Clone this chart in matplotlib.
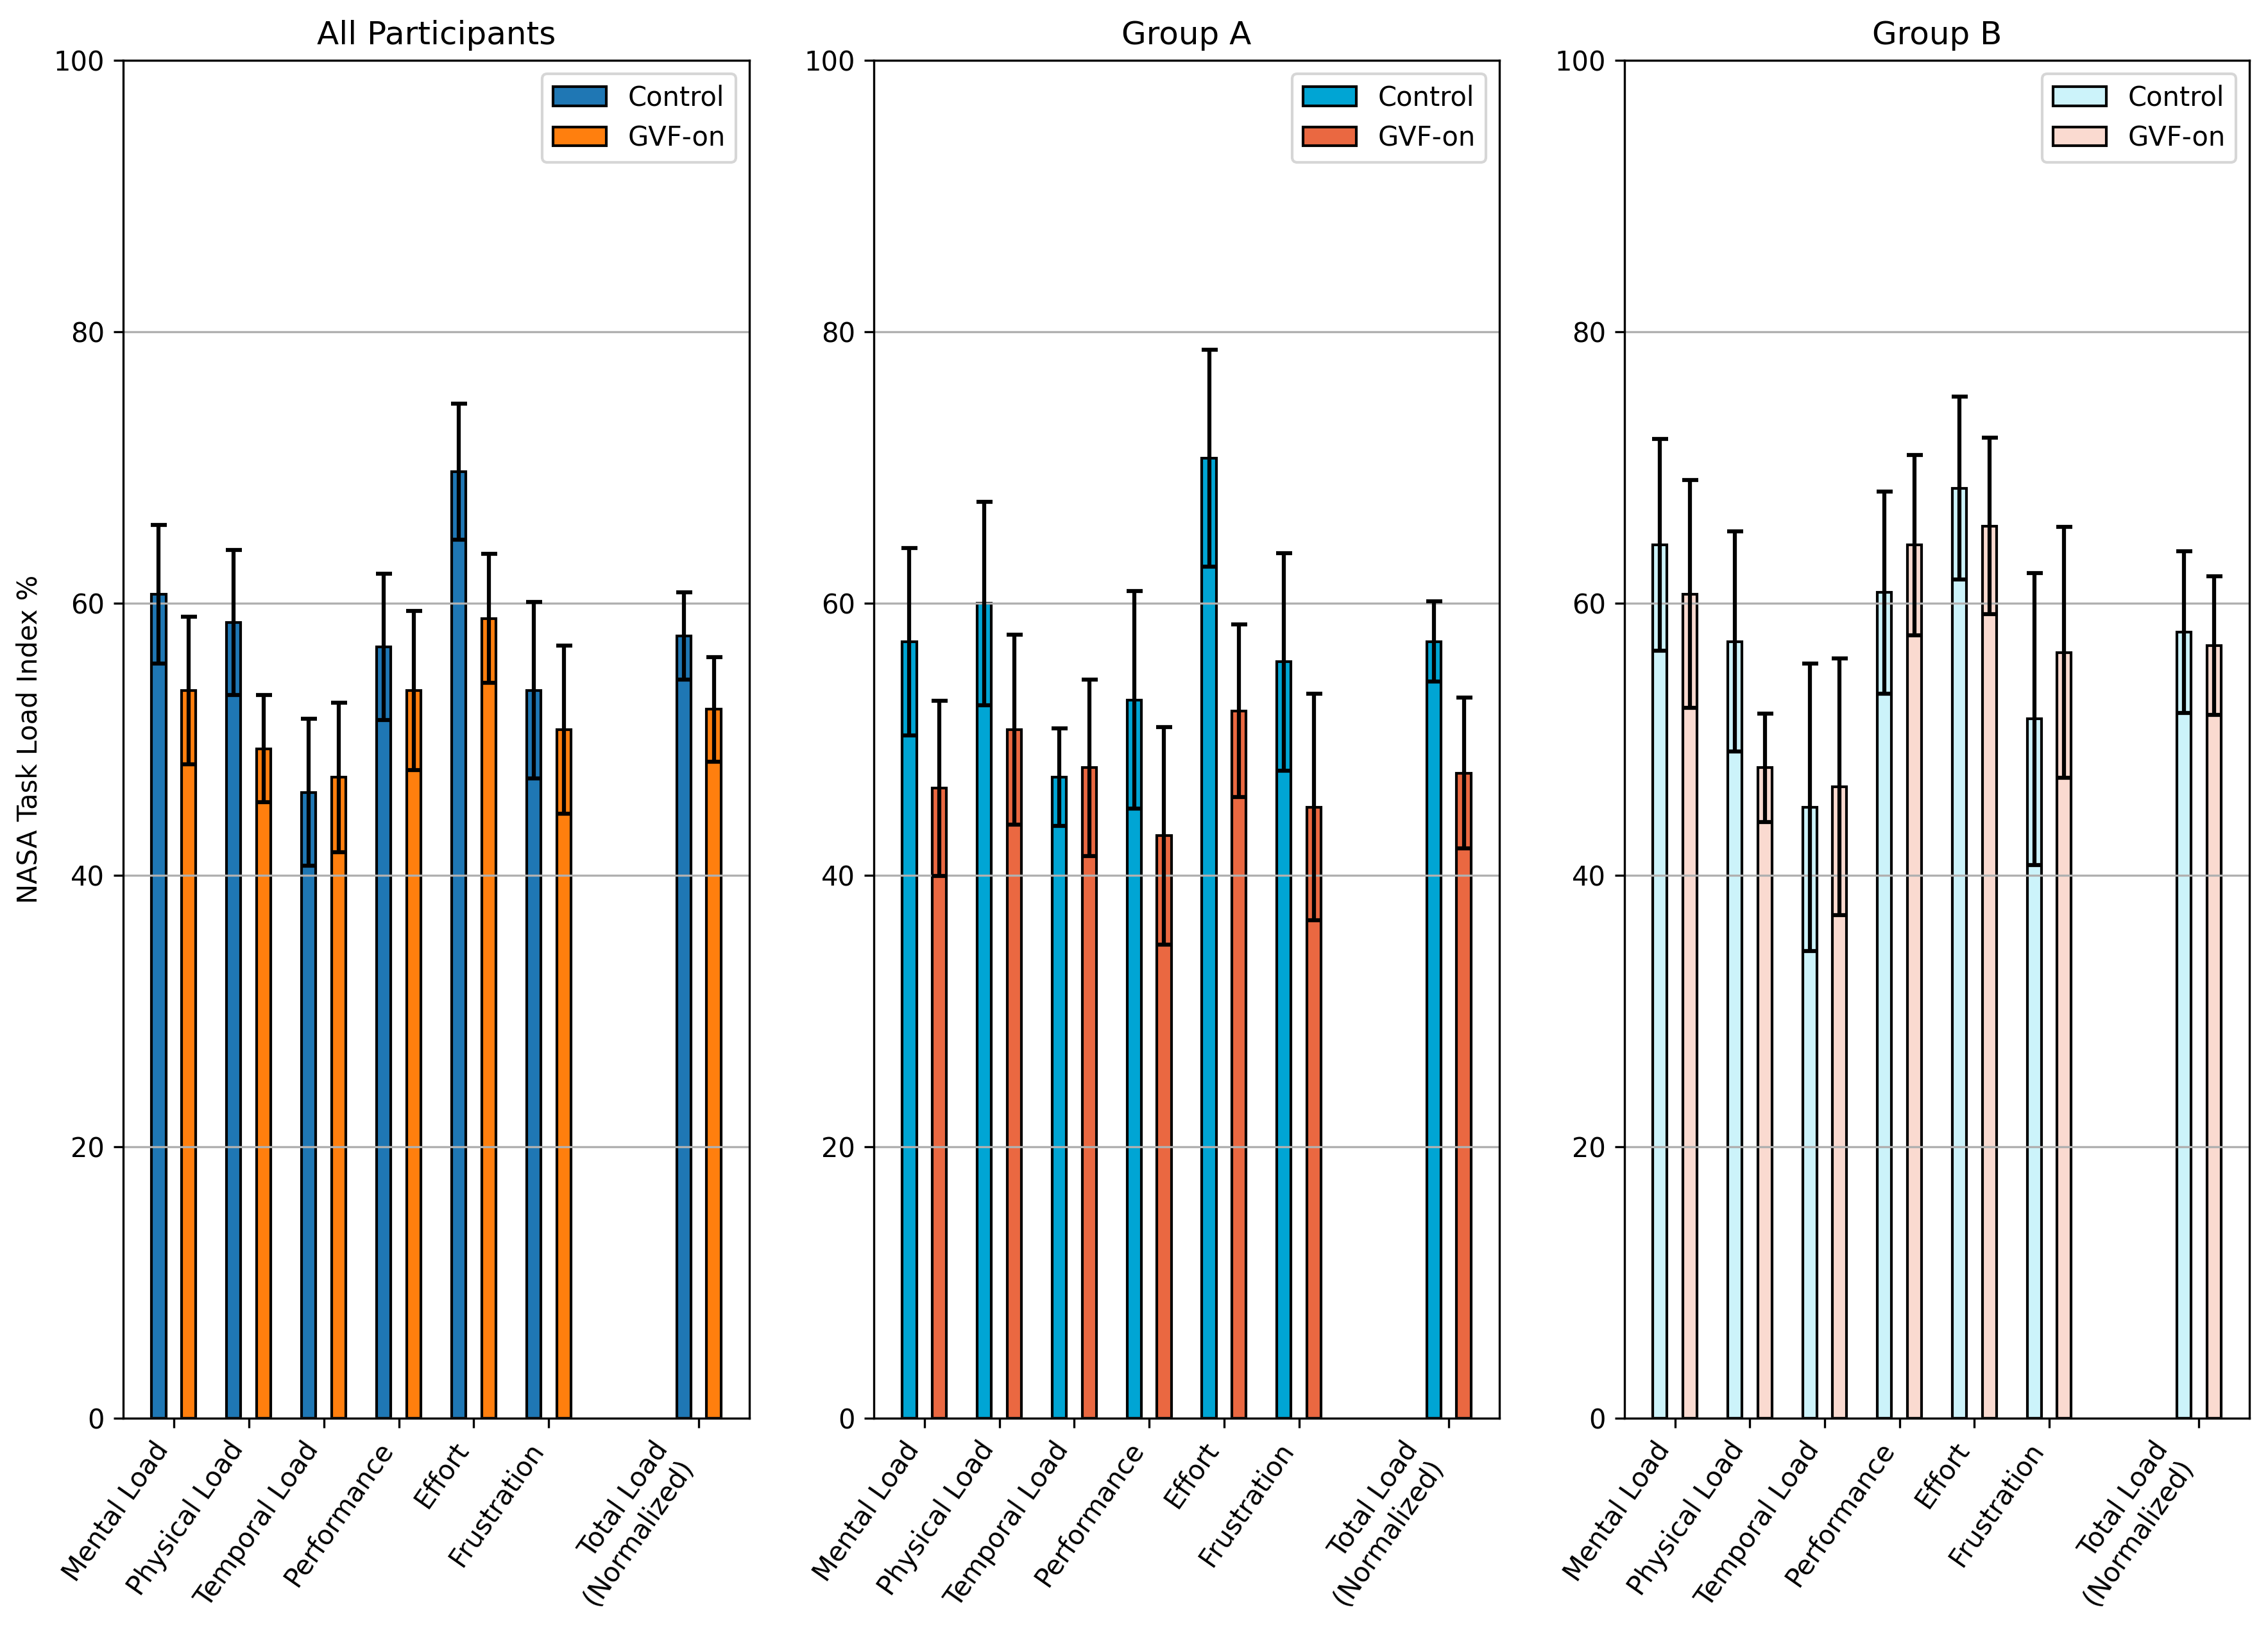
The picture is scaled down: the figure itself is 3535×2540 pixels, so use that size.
import matplotlib
matplotlib.use("Agg")
import matplotlib.pyplot as plt
import numpy as np

categories = ["Mental Load", "Physical Load", "Temporal Load", "Performance",
              "Effort", "Frustration", "Total Load\n(Normalized)"]
positions = [0, 1, 2, 3, 4, 5, 7]

panel_titles = ["All Participants", "Group A", "Group B"]

all_control = [60.7, 58.6, 46.1, 56.8, 69.7, 53.6, 57.6]
all_control_err = [5.1, 5.35, 5.4, 5.4, 5.0, 6.5, 3.2]
all_gvf = [53.6, 49.3, 47.2, 53.6, 58.9, 50.7, 52.2]
all_gvf_err = [5.45, 3.95, 5.5, 5.85, 4.75, 6.2, 3.85]

a_control = [57.2, 60.0, 47.2, 52.9, 70.7, 55.7, 57.2]
a_control_err = [6.9, 7.5, 3.6, 8.0, 8.0, 8.0, 2.95]
a_gvf = [46.4, 50.7, 47.9, 42.9, 52.1, 45.0, 47.5]
a_gvf_err = [6.45, 7.0, 6.5, 8.0, 6.35, 8.35, 5.55]

b_control = [64.3, 57.2, 45.0, 60.8, 68.5, 51.5, 57.9]
b_control_err = [7.8, 8.1, 10.6, 7.45, 6.75, 10.75, 5.95]
b_gvf = [60.7, 47.9, 46.5, 64.3, 65.7, 56.4, 56.9]
b_gvf_err = [8.4, 4.0, 9.45, 6.65, 6.5, 9.25, 5.1]

series_labels = ["Control", "GVF-on"]
panel_colors = [("#1f77b4", "#ff7f0e"),
                ("#00a5d4", "#ea6841"),
                ("#ccf3fa", "#fadad0")]

panels = [
    (all_control, all_control_err, all_gvf, all_gvf_err),
    (a_control, a_control_err, a_gvf, a_gvf_err),
    (b_control, b_control_err, b_gvf, b_gvf_err),
]

W, H = 3535, 2540
fig = plt.figure(figsize=(W / 300, H / 300), dpi=300)
top_px, bottom_px = 94, 2210
lefts_px = [192, 1362, 2532]
rights_px = [1168, 2337, 3506]
ax_rects = [(l / W, 1 - bottom_px / H, (r - l) / W, (bottom_px - top_px) / H)
            for l, r in zip(lefts_px, rights_px)]

width = 0.19
offset = 0.2
x = np.array(positions, dtype=float)
ekw = dict(elinewidth=1.5, capsize=3, capthick=1.5, ecolor="black")

for i, (rect, title, (c, ce, g, ge), (cc, gc)) in enumerate(
        zip(ax_rects, panel_titles, panels, panel_colors)):
    ax = fig.add_axes(rect)
    ax.bar(x - offset, c, width, yerr=ce, color=cc, edgecolor="black",
           linewidth=1, label=series_labels[0], error_kw=ekw)
    ax.bar(x + offset, g, width, yerr=ge, color=gc, edgecolor="black",
           linewidth=1, label=series_labels[1], error_kw=ekw)
    ax.set_ylim(0, 100)
    ax.set_xticks(x)
    ax.set_xticklabels(categories, rotation=55, ha="right")
    ax.grid(axis="y")
    ax.set_title(title, fontsize=12)
    ax.legend(loc="upper right")
    if i == 0:
        ax.set_ylabel("NASA Task Load Index %")

fig.savefig("out.png", dpi=300)
